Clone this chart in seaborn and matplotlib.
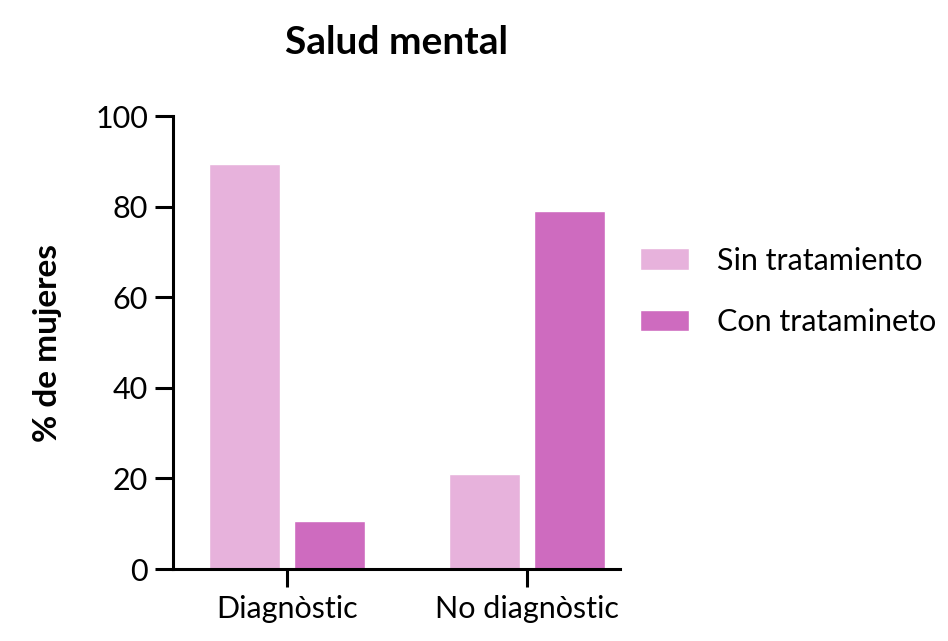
import pandas as pd
import matplotlib
matplotlib.use("Agg")
import matplotlib.pyplot as plt
import seaborn as sns

# data
categorias = ["Diagnòstic", "No diagnòstic"]
sin_tratamiento = [89.5, 21.0]
con_tratamiento = [10.5, 79.0]
grupos = ["Sin tratamiento", "Con tratamineto"]
colores = ["#E7B2DC", "#CE6BBF"]
y_ticks = [0, 20, 40, 60, 80, 100]

df = pd.DataFrame({
    "categoria": categorias * 2,
    "valor": sin_tratamiento + con_tratamiento,
    "grupo": [grupos[0]] * 2 + [grupos[1]] * 2,
})

sns.set_style("ticks")
plt.rcParams["font.family"] = ["Lato", "DejaVu Sans"]
plt.rcParams["text.color"] = "black"
plt.rcParams["axes.labelcolor"] = "black"

fig = plt.figure(figsize=(9.48, 6.41), dpi=100)
ax = fig.add_axes([0.1825, 0.1123, 0.4715, 0.7067])

sns.barplot(data=df, x="categoria", y="valor", hue="grupo",
            palette=colores, width=0.708, gap=0.165, ax=ax,
            saturation=1, errorbar=None)

ax.set_ylim(0, 100)
ax.set_xlim(-0.475, 1.3875)
ax.set_yticks(y_ticks)
ax.set_xlabel("")
ax.set_ylabel("% de mujeres", fontsize=24, fontweight="bold", labelpad=24)
ax.set_title("Salud mental", fontsize=28, fontweight="bold", pad=45)

for s in ["top", "right"]:
    ax.spines[s].set_visible(False)
for s in ["left", "bottom"]:
    ax.spines[s].set_linewidth(2.2)
    ax.spines[s].set_color("black")
ax.tick_params(axis="both", width=2.2, length=13, labelsize=22, colors="black")
ax.tick_params(axis="x", pad=6)
ax.tick_params(axis="y", pad=5)

ax.legend(loc="center left", bbox_to_anchor=(0.984, 0.613), frameon=False,
          fontsize=22, handlelength=1.6, handleheight=0.72,
          handletextpad=0.9, labelspacing=1.1)

fig.savefig("out.png", dpi=100)
